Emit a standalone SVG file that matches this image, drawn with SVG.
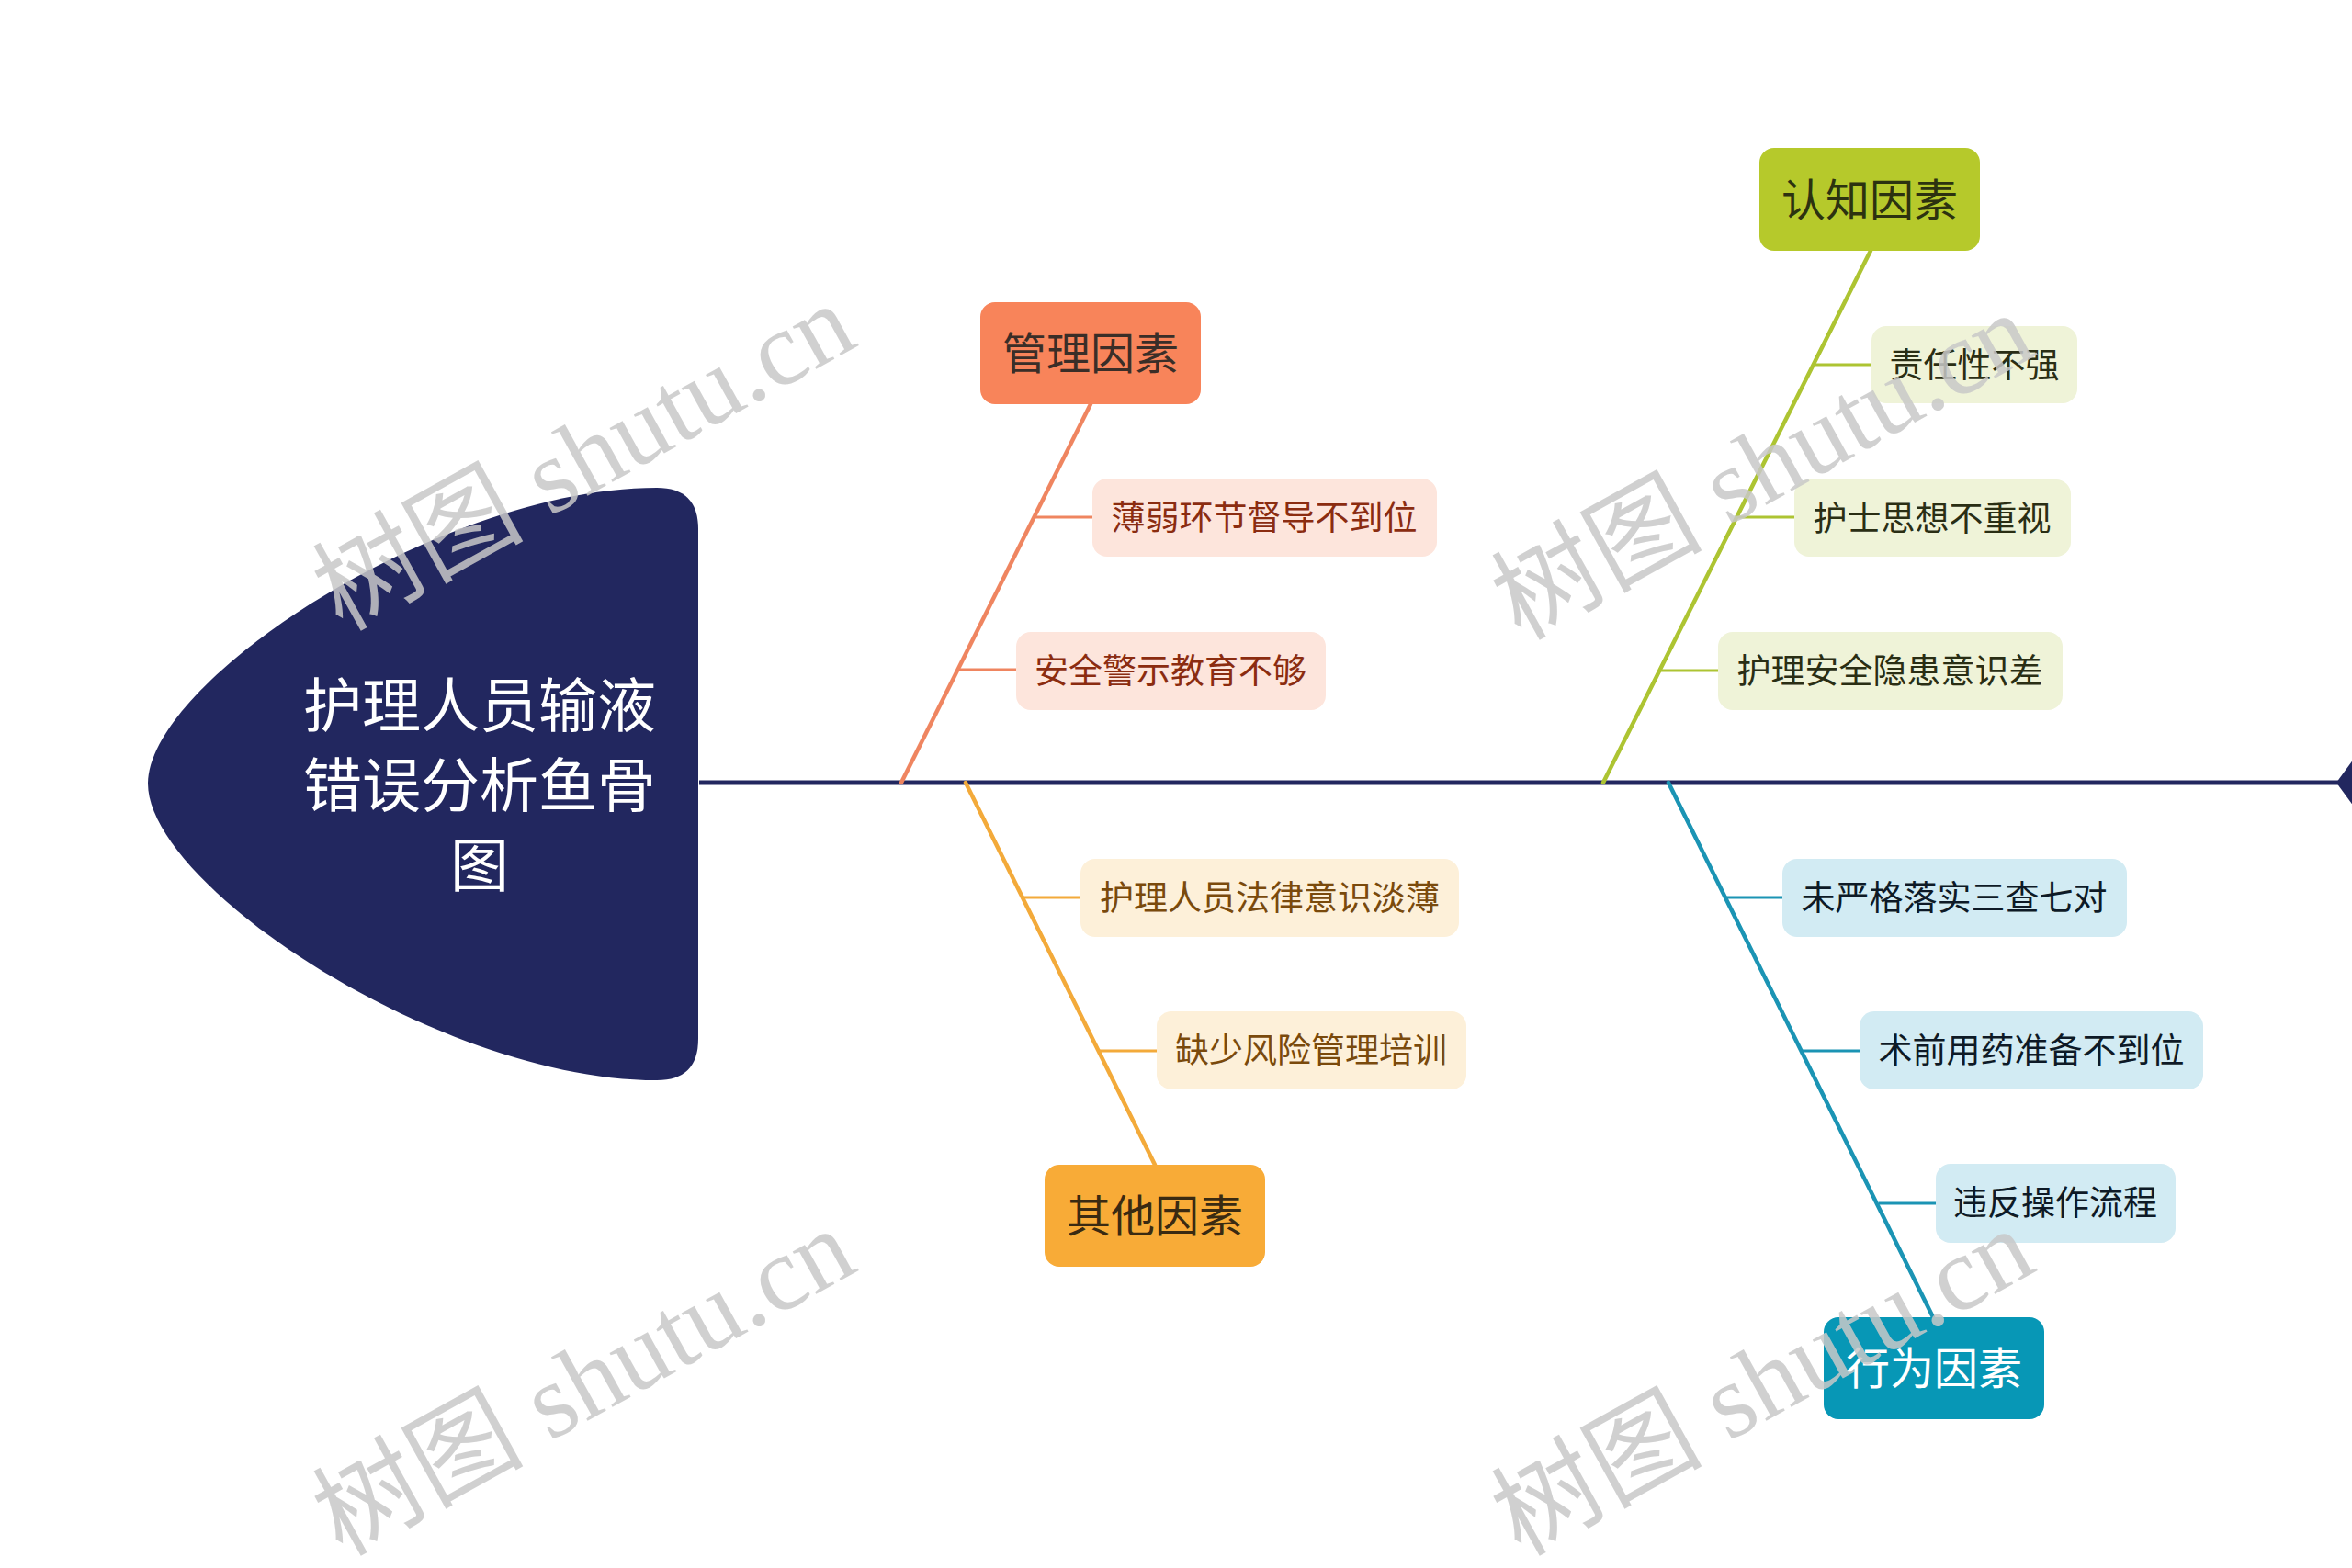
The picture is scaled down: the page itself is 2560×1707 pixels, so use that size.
<svg xmlns="http://www.w3.org/2000/svg" width="2560" height="1707" viewBox="0 0 2560 1707">
<style>
text{font-family:"Noto Sans CJK SC","Noto Sans",sans-serif;}
.cat{font-size:48px;text-anchor:middle;}
.sub{font-size:37px;text-anchor:middle;}
.head{font-size:64px;fill:#ffffff;text-anchor:middle;}
.bone{stroke-width:4.5;fill:none;stroke-linecap:round;}
.br{stroke-width:3;fill:none;}
.m{stroke:#ef8560;} .o{stroke:#f3aa3a;} .c{stroke:#adc432;} .b{stroke:#1b94b4;}
.wm{font-family:"Liberation Serif","Noto Sans CJK SC",serif;font-size:115px;fill:#c8c8c8;fill-opacity:0.85;}
</style>
<rect width="2560" height="1707" fill="#ffffff"/>
<g id="connectors">
  <line x1="761" y1="852" x2="2548" y2="852" stroke="#22275f" stroke-width="5"/>
  <polygon points="2543,852 2578,804 2578,900" fill="#22275f"/>
  <line class="bone m" x1="981" y1="852" x2="1187" y2="440"/>
  <line class="br m" x1="1127" y1="563" x2="1189" y2="563"/>
  <line class="br m" x1="1043" y1="729" x2="1106" y2="729"/>
  <line class="bone o" x1="1051" y1="852" x2="1257" y2="1268"/>
  <line class="br o" x1="1114" y1="977" x2="1176" y2="977"/>
  <line class="br o" x1="1197" y1="1144" x2="1259" y2="1144"/>
  <line class="bone c" x1="1745" y1="852" x2="2036" y2="273"/>
  <line class="br c" x1="1975" y1="397" x2="2037" y2="397"/>
  <line class="br c" x1="1891" y1="563" x2="1953" y2="563"/>
  <line class="br c" x1="1808" y1="730" x2="1870" y2="730"/>
  <line class="bone b" x1="1816" y1="852" x2="2104" y2="1434"/>
  <line class="br b" x1="1879" y1="977" x2="1940" y2="977"/>
  <line class="br b" x1="1962" y1="1144" x2="2024" y2="1144"/>
  <line class="br b" x1="2045" y1="1310" x2="2107" y2="1310"/>
</g>
<g id="head">
  <path d="M161,853 C161,741 480,531 715,531 Q760,531 760,576 L760,1131 Q760,1176 715,1176 C480,1176 161,965 161,853 Z" fill="#22275f"/>
  <text class="head" x="522" y="791">护理人员输液</text>
  <text class="head" x="522" y="878">错误分析鱼骨</text>
  <text class="head" x="522" y="965">图</text>
</g>
<g id="cat-management">
  <rect x="1067" y="329" width="240" height="111" rx="16" fill="#f8845a"/>
  <text class="cat" x="1187" y="402" fill="#3a2e28">管理因素</text>
</g>
<g id="sub-m1">
  <rect x="1189" y="521" width="375" height="85" rx="16" fill="#fde5dc"/>
  <text class="sub" x="1376" y="577" fill="#8b2c10">薄弱环节督导不到位</text>
</g>
<g id="sub-m2">
  <rect x="1106" y="688" width="337" height="85" rx="16" fill="#fde5dc"/>
  <text class="sub" x="1274" y="744" fill="#8b2c10">安全警示教育不够</text>
</g>
<g id="cat-other">
  <rect x="1137" y="1268" width="240" height="111" rx="16" fill="#f8ab37"/>
  <text class="cat" x="1257" y="1341" fill="#3a2a12">其他因素</text>
</g>
<g id="sub-o1">
  <rect x="1176" y="935" width="412" height="85" rx="16" fill="#fdf0d9"/>
  <text class="sub" x="1382" y="991" fill="#7a4a0c">护理人员法律意识淡薄</text>
</g>
<g id="sub-o2">
  <rect x="1259" y="1101" width="337" height="85" rx="16" fill="#fdf0d9"/>
  <text class="sub" x="1427" y="1157" fill="#7a4a0c">缺少风险管理培训</text>
</g>
<g id="cat-cognitive">
  <rect x="1915" y="161" width="240" height="112" rx="16" fill="#b6c92b"/>
  <text class="cat" x="2035" y="235" fill="#2c3210">认知因素</text>
</g>
<g id="sub-c1">
  <rect x="2037" y="355" width="224" height="84" rx="16" fill="#eff3d8"/>
  <text class="sub" x="2149" y="411" fill="#2a2e14">责任性不强</text>
</g>
<g id="sub-c2">
  <rect x="1953" y="522" width="301" height="84" rx="16" fill="#eff3d8"/>
  <text class="sub" x="2103" y="578" fill="#2a2e14">护士思想不重视</text>
</g>
<g id="sub-c3">
  <rect x="1870" y="688" width="375" height="85" rx="16" fill="#eff3d8"/>
  <text class="sub" x="2057" y="744" fill="#2a2e14">护理安全隐患意识差</text>
</g>
<g id="cat-behavior">
  <rect x="1985" y="1434" width="240" height="111" rx="16" fill="#0797b6"/>
  <text class="cat" x="2105" y="1507" fill="#ffffff">行为因素</text>
</g>
<g id="sub-b1">
  <rect x="1940" y="935" width="375" height="85" rx="16" fill="#d2ebf3"/>
  <text class="sub" x="2127" y="991" fill="#0e1a26">未严格落实三查七对</text>
</g>
<g id="sub-b2">
  <rect x="2024" y="1101" width="374" height="85" rx="16" fill="#d2ebf3"/>
  <text class="sub" x="2211" y="1157" fill="#0e1a26">术前用药准备不到位</text>
</g>
<g id="sub-b3">
  <rect x="2107" y="1267" width="261" height="86" rx="16" fill="#d2ebf3"/>
  <text class="sub" x="2237" y="1323" fill="#0e1a26">违反操作流程</text>
</g>
<g id="watermarks">
  <text class="wm" x="372" y="688" transform="rotate(-29 372 688)">树图 shutu.cn</text>
  <text class="wm" x="1655" y="698" transform="rotate(-29 1655 698)">树图 shutu.cn</text>
  <text class="wm" x="372" y="1695" transform="rotate(-29 372 1695)">树图 shutu.cn</text>
  <text class="wm" x="1655" y="1695" transform="rotate(-29 1655 1695)">树图 shutu.cn</text>
</g>
</svg>
